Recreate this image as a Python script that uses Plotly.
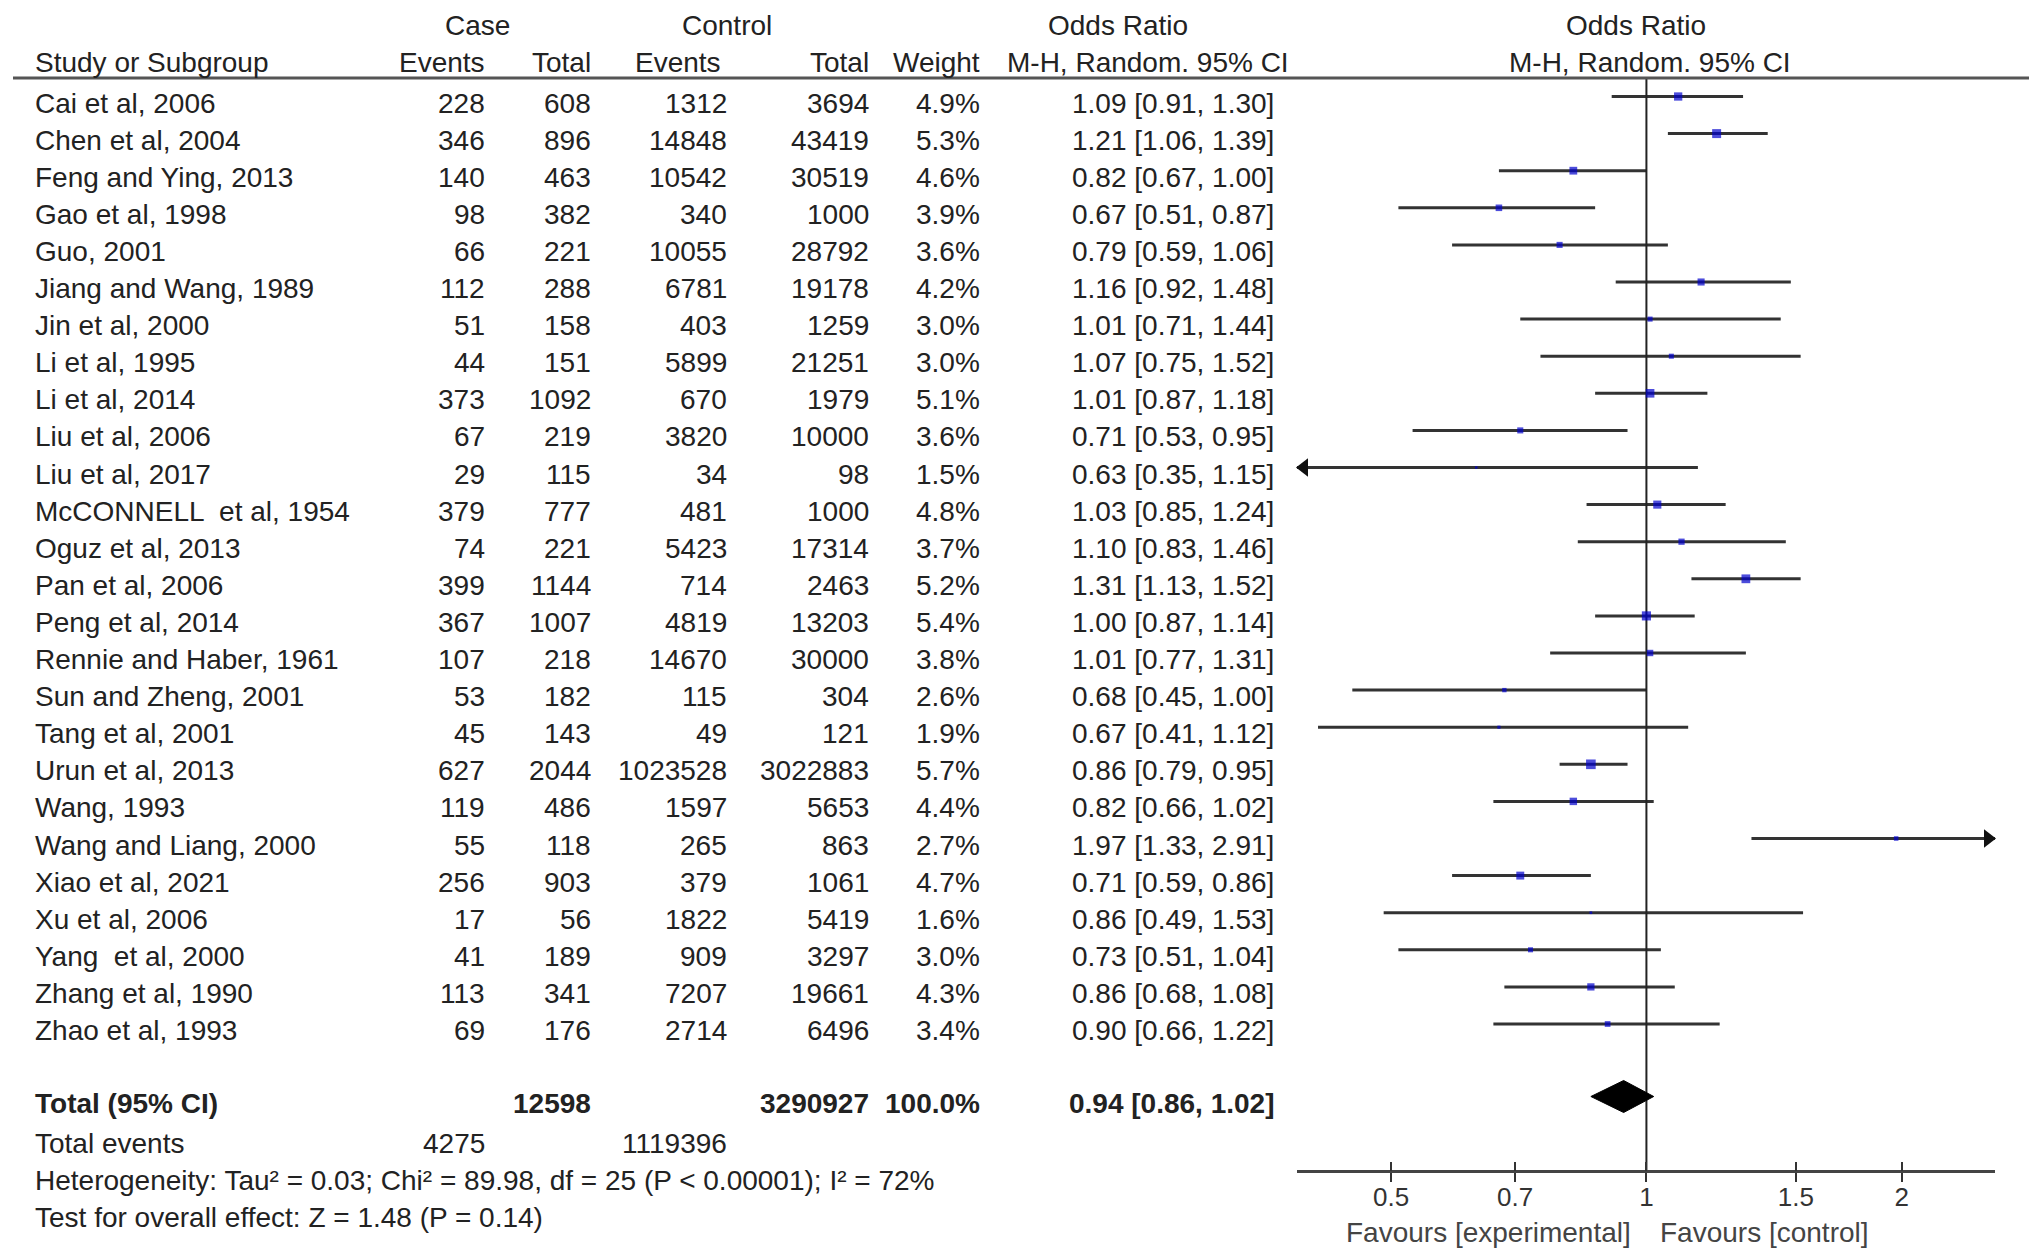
import plotly.graph_objects as go

studies = ["Cai et al, 2006", "Chen et al, 2004", "Feng and Ying, 2013", "Gao et al, 1998",
           "Guo, 2001", "Jiang and Wang, 1989", "Jin et al, 2000", "Li et al, 1995",
           "Li et al, 2014", "Liu et al, 2006", "Liu et al, 2017", "McCONNELL  et al, 1954",
           "Oguz et al, 2013", "Pan et al, 2006", "Peng et al, 2014", "Rennie and Haber, 1961",
           "Sun and Zheng, 2001", "Tang et al, 2001", "Urun et al, 2013", "Wang, 1993",
           "Wang and Liang, 2000", "Xiao et al, 2021", "Xu et al, 2006", "Yang  et al, 2000",
           "Zhang et al, 1990", "Zhao et al, 1993"]
case_events = [228, 346, 140, 98, 66, 112, 51, 44, 373, 67, 29, 379, 74, 399, 367, 107,
               53, 45, 627, 119, 55, 256, 17, 41, 113, 69]
case_total = [608, 896, 463, 382, 221, 288, 158, 151, 1092, 219, 115, 777, 221, 1144, 1007, 218,
              182, 143, 2044, 486, 118, 903, 56, 189, 341, 176]
ctrl_events = [1312, 14848, 10542, 340, 10055, 6781, 403, 5899, 670, 3820, 34, 481, 5423, 714,
               4819, 14670, 115, 49, 1023528, 1597, 265, 379, 1822, 909, 7207, 2714]
ctrl_total = [3694, 43419, 30519, 1000, 28792, 19178, 1259, 21251, 1979, 10000, 98, 1000, 17314,
              2463, 13203, 30000, 304, 121, 3022883, 5653, 863, 1061, 5419, 3297, 19661, 6496]
weights = [4.9, 5.3, 4.6, 3.9, 3.6, 4.2, 3.0, 3.0, 5.1, 3.6, 1.5, 4.8, 3.7, 5.2, 5.4, 3.8,
           2.6, 1.9, 5.7, 4.4, 2.7, 4.7, 1.6, 3.0, 4.3, 3.4]
odds = [1.09, 1.21, 0.82, 0.67, 0.79, 1.16, 1.01, 1.07, 1.01, 0.71, 0.63, 1.03, 1.10, 1.31, 1.00,
        1.01, 0.68, 0.67, 0.86, 0.82, 1.97, 0.71, 0.86, 0.73, 0.86, 0.90]
ci_low = [0.91, 1.06, 0.67, 0.51, 0.59, 0.92, 0.71, 0.75, 0.87, 0.53, 0.35, 0.85, 0.83, 1.13, 0.87,
          0.77, 0.45, 0.41, 0.79, 0.66, 1.33, 0.59, 0.49, 0.51, 0.68, 0.66]
ci_high = [1.30, 1.39, 1.00, 0.87, 1.06, 1.48, 1.44, 1.52, 1.18, 0.95, 1.15, 1.24, 1.46, 1.52, 1.14,
           1.31, 1.00, 1.12, 0.95, 1.02, 2.91, 0.86, 1.53, 1.04, 1.08, 1.22]

total_label = "Total (95% CI)"
total_case = 12598
total_ctrl = 3290927
total_weight = "100.0%"
total_or, total_lo, total_hi = 0.94, 0.86, 1.02
total_case_events = 4275
total_ctrl_events = 1119396
heterogeneity = "Heterogeneity: Tau² = 0.03; Chi² = 89.98, df = 25 (P < 0.00001); I² = 72%"
overall = "Test for overall effect: Z = 1.48 (P = 0.14)"
tick_vals = [0.5, 0.7, 1, 1.5, 2]
tick_text = ["0.5", "0.7", "1", "1.5", "2"]
fav_left = "Favours [experimental]"
fav_right = "Favours [control]"

W, H = 2032, 1259
FONT = "Liberation Sans, Arial, sans-serif"
FS = 28
TXT = "#222222"
LINE = "#333333"

# layout geometry (pixels)
ROW0, DY = 103, 37.1
def row_of(px):
    return (px - ROW0) / DY
def px_x(px):
    return px / W

MO = 6.5 / DY            # marks sit slightly above text centres
XR = [-0.412, 0.411]
X0, X1 = 1297, 1995
AXIS_PX = 1171

n = len(studies)
rows = list(range(n))
mrows = [i - MO for i in rows]

fig = go.Figure()

# CI lines
xmin, xmax = 10 ** XR[0], 10 ** XR[1]
lx, ly = [], []
for i in rows:
    lx += [max(ci_low[i], xmin), min(ci_high[i], xmax), None]
    ly += [mrows[i], mrows[i], None]
fig.add_trace(go.Scatter(x=lx, y=ly, mode="lines", line=dict(color=LINE, width=3),
                         hoverinfo="skip", showlegend=False))

# arrows where CI exceeds axis
dlog = 7.0 / (X1 - X0) * (XR[1] - XR[0])
ax_, ay_, asym = [], [], []
for i in rows:
    if ci_low[i] < xmin:
        ax_.append(10 ** (XR[0] + dlog)); ay_.append(mrows[i]); asym.append("triangle-left")
    if ci_high[i] > xmax:
        ax_.append(10 ** (XR[1] - dlog)); ay_.append(mrows[i]); asym.append("triangle-right")
fig.add_trace(go.Scatter(x=ax_, y=ay_, mode="markers", cliponaxis=False,
                         marker=dict(symbol=asym, size=16, color="#111111", line=dict(width=0)),
                         hoverinfo="skip", showlegend=False))

# null line
header_line_row = row_of(78)
axis_row = row_of(AXIS_PX)
fig.add_trace(go.Scatter(x=[1, 1], y=[header_line_row, axis_row], mode="lines",
                         line=dict(color="#222222", width=2), hoverinfo="skip", showlegend=False))

# study squares
sizes = [2.5 + 1.7 * (w - 1.5) for w in weights]
fig.add_trace(go.Scatter(x=odds, y=mrows, mode="markers",
                         marker=dict(symbol="square", size=sizes, color="#0000cc", line=dict(width=0)),
                         hoverinfo="skip", showlegend=False))

# diamond
total_row = row_of(1103) - MO
hh = 16 / DY
fig.add_trace(go.Scatter(x=[total_lo, total_or, total_hi, total_or, total_lo],
                         y=[total_row, total_row - hh, total_row, total_row + hh, total_row],
                         mode="lines", fill="toself", fillcolor="#000000",
                         line=dict(color="#000000", width=1), hoverinfo="skip", showlegend=False))

ann = []
def add(text, xpx, yrow, anchor="left", bold=False, size=FS, color=TXT):
    t = f"<b>{text}</b>" if bold else text
    ann.append(dict(text=t, x=px_x(xpx), xref="paper", y=yrow, yref="y",
                    xanchor=anchor, yanchor="middle", showarrow=False,
                    font=dict(family=FONT, size=size, color=color)))

# headers
h1, h2 = row_of(25), row_of(62)
add("Case", 477, h1, "center")
add("Control", 727, h1, "center")
add("Odds Ratio", 1118, h1, "center")
add("Odds Ratio", 1636, h1, "center")
add("Study or Subgroup", 33, h2)
add("Events", 487, h2, "right")
add("Total", 593, h2, "right")
add("Events", 723, h2, "right")
add("Total", 871, h2, "right")
add("Weight", 982, h2, "right")
add("M-H, Random. 95% CI", 1148, h2, "center")
add("M-H, Random. 95% CI", 1650, h2, "center")

COLS = [487, 593, 729, 871, 982, 1276]
for i in rows:
    add(studies[i], 33, i)
    add(str(case_events[i]), COLS[0], i, "right")
    add(str(case_total[i]), COLS[1], i, "right")
    add(str(ctrl_events[i]), COLS[2], i, "right")
    add(str(ctrl_total[i]), COLS[3], i, "right")
    add(f"{weights[i]:.1f}%", COLS[4], i, "right")
    add(f"{odds[i]:.2f} [{ci_low[i]:.2f}, {ci_high[i]:.2f}]", COLS[5], i, "right")

tr = row_of(1103)
add(total_label, 33, tr, bold=True)
add(str(total_case), COLS[1], tr, "right", bold=True)
add(str(total_ctrl), COLS[3], tr, "right", bold=True)
add(total_weight, COLS[4], tr, "right", bold=True)
add(f"{total_or:.2f} [{total_lo:.2f}, {total_hi:.2f}]", COLS[5], tr, "right", bold=True)
te = row_of(1143)
add("Total events", 33, te)
add(str(total_case_events), COLS[0], te, "right")
add(str(total_ctrl_events), COLS[2], te, "right")
add(heterogeneity, 33, row_of(1180))
add(overall, 33, row_of(1217))

add(fav_left, 1633, row_of(1232), "right", color="#444444")
add(fav_right, 1658, row_of(1232), "left", color="#444444")

shapes = [dict(type="line", xref="paper", yref="y", x0=13 / W, x1=2029 / W,
               y0=header_line_row, y1=header_line_row, line=dict(color="#555555", width=3))]

axis_pos = 1 - AXIS_PX / H
fig.update_layout(
    width=W, height=H, margin=dict(l=0, r=0, t=0, b=0, pad=0),
    paper_bgcolor="white", plot_bgcolor="white",
    annotations=ann, shapes=shapes, showlegend=False,
    xaxis=dict(type="log", range=XR, domain=[X0 / W, X1 / W], anchor="free", position=axis_pos,
               showgrid=False, zeroline=False, showline=True, linecolor="#444444", linewidth=3,
               ticks="outside", ticklen=9, tickwidth=2, tickcolor="#333333",
               tickvals=tick_vals, ticktext=tick_text, ticklabelstandoff=-7,
               tickfont=dict(family=FONT, size=26, color="#333333")),
    xaxis2=dict(type="log", range=XR, domain=[X0 / W, X1 / W], anchor="free", position=axis_pos,
                overlaying="x", showgrid=False, zeroline=False, showline=False,
                ticks="inside", ticklen=9, tickwidth=2, tickcolor="#333333",
                tickvals=tick_vals, showticklabels=False),
    yaxis=dict(range=[row_of(H), row_of(0)], domain=[0, 1], visible=False, showgrid=False,
               zeroline=False),
)
fig.add_trace(go.Scatter(x=[1], y=[0], xaxis="x2", mode="markers", marker=dict(opacity=0),
                         hoverinfo="skip", showlegend=False))

fig.write_html("out.html", config={"displayModeBar": False, "staticPlot": True},
               post_script="document.body.style.margin='0';document.body.style.overflow='hidden';")
